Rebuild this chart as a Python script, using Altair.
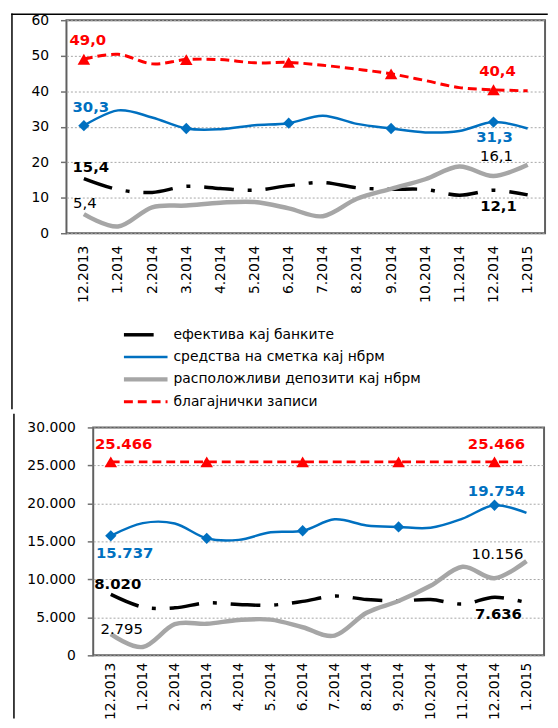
import altair as alt
import pandas as pd

FONT = "DejaVu Sans"

months = ["12.2013", "1.2014", "2.2014", "3.2014", "4.2014", "5.2014", "6.2014",
          "7.2014", "8.2014", "9.2014", "10.2014", "11.2014", "12.2014", "1.2015"]
series = ["ефектива кај банките", "средства на сметка кај нбрм",
          "расположливи депозити кај нбрм", "благајнички записи"]

# upper panel: structure in %
efektiva_pct = [15.4, 12.3, 11.5, 13.2, 12.6, 12.1, 13.4, 14.3, 12.8, 12.4, 12.3, 10.7, 12.1, 10.8]
sredstva_pct = [30.3, 34.6, 32.6, 29.5, 29.3, 30.4, 31.0, 33.1, 30.8, 29.5, 28.4, 28.8, 31.3, 29.5]
raspolozlivi_pct = [5.4, 1.9, 7.3, 7.8, 8.6, 8.8, 7.0, 4.8, 9.7, 12.5, 15.2, 18.8, 16.1, 19.3]
blagajnicki_pct = [49.0, 50.4, 47.7, 48.9, 48.9, 48.0, 48.1, 47.3, 46.2, 44.9, 43.0, 41.0, 40.4, 40.1]

# lower panel: amounts
efektiva_mil = [8020, 6350, 6250, 6900, 6700, 6600, 7100, 7800, 7350, 7150, 7350, 6750, 7636, 6950]
sredstva_mil = [15737, 17400, 17350, 15400, 15200, 16200, 16400, 17900, 17100, 16900, 16800, 18000, 19754, 18750]
raspolozlivi_mil = [2795, 1100, 4100, 4150, 4650, 4700, 3700, 2600, 5600, 7150, 9150, 11650, 10156, 12400]
blagajnicki_mil = [25466, 25466, 25466, 25466, 25466, 25466, 25466,
                   25466, 25466, 25466, 25466, 25466, 25466, 25466]

marker_months = ["12.2013", "3.2014", "6.2014", "9.2014", "12.2014"]
top_y_ticks = [0, 10, 20, 30, 40, 50, 60]
bottom_y_ticks = [0, 5000, 10000, 15000, 20000, 25000, 30000]

# labelled points: (series index, month)
top_labels = [(3, "12.2013"), (3, "12.2014"), (1, "12.2013"), (1, "12.2014"),
              (0, "12.2013"), (0, "12.2014"), (2, "12.2013"), (2, "12.2014")]
bottom_labels = [(3, "12.2013"), (3, "12.2014"), (1, "12.2013"), (1, "12.2014"),
                 (0, "12.2013"), (0, "12.2014"), (2, "12.2013"), (2, "12.2014")]

# ---- styles (kept apart from data) ----
line_styles = [
    dict(color="#000000", strokeWidth=3.5, strokeDash=[30, 14, 4, 14]),
    dict(color="#0070C0", strokeWidth=2.5),
    dict(color="#A6A6A6", strokeWidth=4.5),
    dict(color="#FF0000", strokeWidth=3, strokeDash=[9, 5]),
]
marker_styles = {1: ("diamond", 130), 3: ("triangle-up", 160)}
label_styles = [("#000000", "bold"), ("#0070C0", "bold"), ("#000000", "normal"), ("#FF0000", "bold")]
top_offsets = [(4, -19), (4, -19), (7, -19), (1, 15), (7, -12), (5, 16), (1, -11), (3, -20)]
bottom_offsets = [(13, -18), (2, -18), (14, 17), (2, -14), (7, -10), (4, 17), (11, -5), (3, -24)]


def long_df(cols):
    rows = []
    for s, vals in zip(series, cols):
        for m, v in zip(months, vals):
            rows.append({"series": s, "month": m, "value": v, "marker": m in marker_months})
    return pd.DataFrame(rows)


top_df = long_df([efektiva_pct, sredstva_pct, raspolozlivi_pct, blagajnicki_pct])
bottom_df = long_df([efektiva_mil, sredstva_mil, raspolozlivi_mil, blagajnicki_mil])
one = pd.DataFrame({"k": [0]})


def frame_line(**enc):
    return alt.Chart(one).mark_rule(color="#000000", strokeWidth=1.5,
                                    strokeCap="square").encode(**enc)


def data_layers(df, ydomain, yticks, ylabel_expr, text_expr, labels, offsets, x_pad, x_label_pad):
    x = alt.X("month:N", sort=months,
              scale=alt.Scale(type="point", domain=months, padding=x_pad),
              axis=alt.Axis(title=None, labelAngle=-90, labelFontSize=14, labelFont=FONT,
                            labelColor="#000000", labelPadding=x_label_pad, ticks=False,
                            domain=False, grid=False, labelOverlap=False))
    y = alt.Y("value:Q", scale=alt.Scale(domain=ydomain, nice=False, zero=True),
              axis=alt.Axis(title=None, values=yticks, labelExpr=ylabel_expr, labelFontSize=14,
                            labelFont=FONT, labelColor="#000000", labelPadding=12,
                            tickSize=6, tickColor="#707070", tickWidth=1.5, domain=False,
                            grid=True, gridColor="#A6A6A6", gridDash=[2, 2], gridWidth=1))
    base = alt.Chart(df)
    layers = []
    for i, s in enumerate(series):
        layers.append(base.transform_filter(alt.datum.series == s)
                      .mark_line(interpolate="cardinal", strokeCap="butt", **line_styles[i])
                      .encode(x=x, y=y))
    for i, (shape, size) in marker_styles.items():
        layers.append(base.transform_filter(alt.datum.series == series[i])
                      .transform_filter("datum.marker")
                      .mark_point(shape=shape, size=size, filled=True, opacity=1,
                                  color=line_styles[i]["color"])
                      .encode(x=x, y=y))
    for (i, m), (dx, dy) in zip(labels, offsets):
        color, weight = label_styles[i]
        layers.append(base.transform_filter(alt.datum.series == series[i])
                      .transform_filter(alt.datum.month == m)
                      .transform_calculate(txt=text_expr)
                      .mark_text(dx=dx, dy=dy, fontSize=15, fontWeight=weight, color=color,
                                 font=FONT, align="center", baseline="middle")
                      .encode(x=x, y=y, text="txt:N"))
    return alt.layer(*layers)


# ---- upper panel with the legend below its axis ----
top_data = data_layers(top_df, [0, 60], top_y_ticks, "format(datum.value, 'd')",
                       "replace(format(datum.value, '.1f'), '.', ',')", top_labels, top_offsets,
                       0.51, 12)

leg_df = pd.DataFrame({"series": series})
y_leg = alt.Y("series:N", sort=series,
              scale=alt.Scale(type="point", domain=series, range=[317.5, 385], padding=0),
              axis=None)
leg_layers = []
for i, s in enumerate(series):
    leg_layers.append(alt.Chart(leg_df).transform_filter(alt.datum.series == s)
                      .mark_rule(strokeCap="butt", **line_styles[i])
                      .encode(x=alt.value(58), x2=alt.value(102), y=y_leg))
leg_layers.append(alt.Chart(leg_df).mark_text(align="left", baseline="middle", fontSize=14,
                                              font=FONT, color="#000000")
                  .encode(x=alt.value(108), y=y_leg, text="series:N"))
legend = alt.layer(*leg_layers)

top = alt.layer(
    top_data, legend,
    frame_line(x=alt.value(-55), x2=alt.value(485), y=alt.value(-6)),
    frame_line(x=alt.value(-55), y=alt.value(-6), y2=alt.value(392)),
).resolve_scale(y="independent").properties(
    width=483, height=215, view=alt.ViewBackground(stroke="#606060", strokeWidth=2))

# ---- lower panel ----
bottom_data = data_layers(bottom_df, [0, 30000], bottom_y_ticks,
                          "replace(format(datum.value, ','), ',', '.')",
                          "replace(format(datum.value, ',.0f'), ',', '.')", bottom_labels,
                          bottom_offsets, 0.55, 7)
bottom = alt.layer(
    bottom_data,
    frame_line(x=alt.value(-80), y=alt.value(-13), y2=alt.value(293)),
).properties(width=455, height=230,
             view=alt.ViewBackground(stroke="#606060", strokeWidth=2))

spacer = alt.Chart(one).mark_point(opacity=0).encode(
    x=alt.value(0), y=alt.value(0)).properties(
    width=27, height=230, view=alt.ViewBackground(stroke="transparent"))

bottom_row = alt.hconcat(spacer, bottom, spacing=0, bounds="flush")

chart = alt.vconcat(top, bottom_row, spacing=0).properties(
    padding={"left": 1, "top": 0, "right": 0, "bottom": 0}
).configure_view(stroke="transparent").configure(background="#ffffff")

chart.save("out.html", embed_options={"renderer": "svg", "actions": False})
